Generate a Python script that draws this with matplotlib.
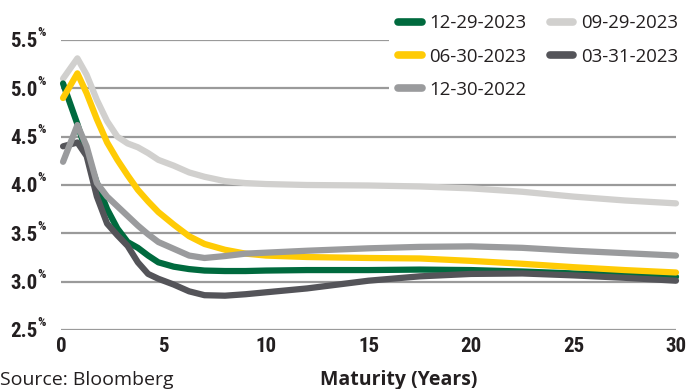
import matplotlib
matplotlib.use("Agg")
import matplotlib.pyplot as plt
from matplotlib.lines import Line2D
from matplotlib import font_manager as fm

# ---------------- data ----------------
maturity = [0.1, 0.8, 1.25, 1.75, 2.25, 2.75, 3.25, 3.75, 4.25, 4.75, 5.5, 6.25,
            7, 8, 9, 10, 12, 15, 17.5, 20, 22.5, 25, 27.5, 30]

y_2023_12_29 = [5.05, 4.63, 4.33, 4.02, 3.75, 3.55, 3.41, 3.35, 3.27, 3.20, 3.155, 3.13,
                3.115, 3.11, 3.11, 3.115, 3.12, 3.12, 3.125, 3.12, 3.105, 3.085, 3.07, 3.05]
y_2023_09_29 = [5.10, 5.31, 5.14, 4.88, 4.66, 4.50, 4.43, 4.39, 4.33, 4.26, 4.20, 4.13,
                4.085, 4.04, 4.02, 4.01, 4.00, 3.995, 3.985, 3.965, 3.93, 3.88, 3.84, 3.81]
y_2023_06_30 = [4.90, 5.155, 4.95, 4.68, 4.44, 4.26, 4.10, 3.95, 3.83, 3.72, 3.59, 3.47,
                3.39, 3.33, 3.29, 3.27, 3.255, 3.245, 3.24, 3.215, 3.185, 3.15, 3.12, 3.095]
y_2023_03_31 = [4.40, 4.44, 4.30, 3.88, 3.60, 3.48, 3.37, 3.20, 3.08, 3.03, 2.97, 2.90,
                2.86, 2.855, 2.87, 2.89, 2.93, 3.01, 3.055, 3.08, 3.085, 3.065, 3.04, 3.01]
y_2022_12_30 = [4.24, 4.62, 4.40, 4.02, 3.88, 3.78, 3.68, 3.58, 3.49, 3.41, 3.34, 3.27,
                3.245, 3.265, 3.29, 3.30, 3.32, 3.345, 3.36, 3.365, 3.35, 3.32, 3.295, 3.27]

labels = ["12-29-2023", "09-29-2023", "06-30-2023", "03-31-2023", "12-30-2022"]
colors = ["#006a3e", "#d1d0ce", "#ffcb05", "#545459", "#9a9b9d"]
series = [y_2023_12_29, y_2023_09_29, y_2023_06_30, y_2023_03_31, y_2022_12_30]

y_ticks = [2.5, 3.0, 3.5, 4.0, 4.5, 5.0, 5.5]
x_ticks = [0, 5, 10, 15, 20, 25, 30]

# ---------------- fonts ----------------
avail = {f.name for f in fm.fontManager.ttflist}
narrow = "Roboto"
for cand in ["Roboto Condensed", "Liberation Sans Narrow", "DejaVu Sans Condensed",
             "Open Sans Condensed", "Roboto"]:
    if cand in avail:
        narrow = cand
        break
body = "Open Sans" if "Open Sans" in avail else "Noto Sans"

W, H = 691, 389
fig = plt.figure(figsize=(W / 100, H / 100), dpi=100)
L, R, B, T = 61, 676, 330, 40
ax = fig.add_axes([L / W, 1 - B / H, (R - L) / W, (B - T) / H])
ax.set_xlim(0, 30)
ax.set_ylim(2.5, 5.5)
for s in ax.spines.values():
    s.set_visible(False)

ax.set_yticks(y_ticks)
ax.grid(axis="y", color="#9a9a9a", linewidth=1.6, zorder=0)
ax.set_axisbelow(True)
ax.tick_params(axis="both", length=0)
ax.set_yticklabels([f"{v:.1f}" for v in y_ticks], fontfamily=narrow,
                   fontweight="bold", fontsize=15, color="#231f20")
ax.tick_params(axis="y", pad=17)
for v in y_ticks:
    ax.annotate("%", xy=(0, v), xycoords=("axes fraction", "data"),
                xytext=(-17, 0.5), textcoords="offset points", ha="left", va="bottom",
                fontsize=9.5, fontfamily=narrow, fontweight="bold", color="#231f20")
ax.set_xticks(x_ticks)
ax.set_xticklabels([str(v) for v in x_ticks], fontfamily=narrow,
                   fontweight="bold", fontsize=15, color="#231f20")
ax.tick_params(axis="x", pad=5)

order = [1, 0, 2, 3, 4]
for i in order:
    ax.plot(maturity, series[i], color=colors[i], linewidth=4.5,
            solid_capstyle="round", solid_joinstyle="round",
            clip_on=False, zorder=3 + order.index(i))

handles = [Line2D([], [], color=colors[i], linewidth=5.5, solid_capstyle="round")
           for i in range(5)]
leg_order = [0, 2, 4, 1, 3]
leg = fig.legend([handles[i] for i in leg_order], [labels[i] for i in leg_order],
                 ncol=2, loc="upper left", bbox_to_anchor=(389 / W, 1 - 5 / H),
                 frameon=True, facecolor="white", edgecolor="none", framealpha=1,
                 prop={"family": body, "size": 13.4}, handlelength=1.25,
                 handletextpad=0.42, columnspacing=1.25, labelspacing=0.82,
                 borderpad=0.5, borderaxespad=0)
for t in leg.get_texts():
    t.set_color("#231f20")

fig.text(0 / W, 1 - 380 / H, "Source: Bloomberg", fontfamily=body, fontsize=14,
         color="#231f20", ha="left", va="center")
fig.text(399 / W, 1 - 380 / H, "Maturity (Years)", fontfamily=body, fontsize=14,
         fontweight="bold", color="#231f20", ha="center", va="center")

fig.savefig("out.png", dpi=100)
